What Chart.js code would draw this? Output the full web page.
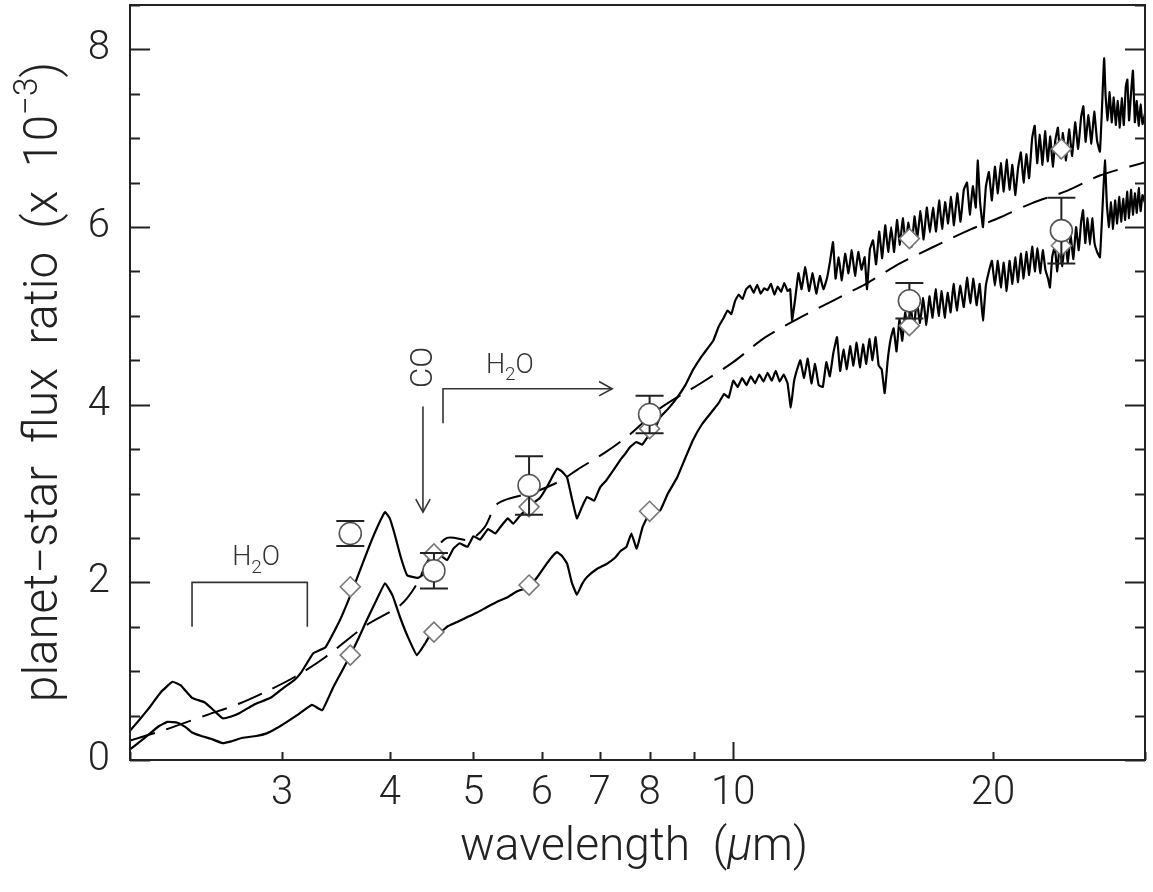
<!DOCTYPE html>
<html>
<head>
<meta charset="utf-8">
<script src="https://cdn.jsdelivr.net/npm/chart.js@4.4.0/dist/chart.umd.min.js"></script>
<style>
  html, body { margin: 0; padding: 0; background: #fff; }
  #wrap { width: 1153px; height: 892px; }
</style>
</head>
<body>
<div id="wrap"><canvas id="spectrum"></canvas></div>
<script>
// model spectra, [wavelength (um), planet-star flux ratio (x 1e-3)]
const upperModel = [
  [2.0,0.33],[2.05,0.45],[2.11,0.60],[2.17,0.76],[2.24,0.88],[2.29,0.84],[2.36,0.70],[2.44,0.65],[2.5,0.56],[2.56,0.47],
  [2.62,0.49],[2.68,0.53],[2.78,0.62],[2.91,0.70],[3.01,0.81],[3.1,0.90],[3.16,0.99],[3.26,1.20],[3.37,1.27],[3.5,1.57],
  [3.62,1.91],[3.76,2.33],[3.86,2.60],[3.95,2.79],[4.0,2.72],[4.05,2.55],[4.12,2.28],[4.19,2.08],[4.31,2.05],[4.39,2.10],
  [4.49,2.20],[4.58,2.30],[4.66,2.25],[4.74,2.38],[4.82,2.44],[4.92,2.40],[5.0,2.52],[5.09,2.48],[5.2,2.60],[5.3,2.55],
  [5.37,2.62],[5.48,2.72],[5.56,2.66],[5.66,2.75],[5.76,2.82],[5.86,2.89],[5.97,2.95],[6.08,3.07],[6.18,3.20],[6.25,3.28],
  [6.33,3.25],[6.42,3.18],[6.5,2.95],[6.59,2.72],[6.68,2.85],[6.77,2.96],[6.9,2.92],[7.01,3.07],[7.13,3.15],[7.26,3.26],
  [7.4,3.38],[7.5,3.45],[7.59,3.52],[7.72,3.58],[7.84,3.55],[7.95,3.63],[8.1,3.72],[8.23,3.86],[8.4,3.95],[8.61,4.08],
  [8.8,4.22],[8.98,4.39],[9.2,4.55],[9.48,4.72],[9.62,4.88],[9.75,4.98],[9.85,5.06],[9.95,5.02],[10.05,5.17],[10.15,5.24],
  [10.25,5.19],[10.35,5.30],[10.46,5.34],[10.56,5.26],[10.66,5.35],[10.76,5.25],[10.86,5.31],[10.96,5.29],[11.06,5.36],[11.16,5.24],
  [11.26,5.33],[11.36,5.27],[11.46,5.37],[11.56,5.28],[11.64,5.30],[11.7,4.95],[11.8,5.20],[11.9,5.48],[12.0,5.30],[12.12,5.55],
  [12.24,5.28],[12.36,5.48],[12.48,5.25],[12.6,5.45],[12.72,5.30],[12.84,5.42],[12.95,5.62],[13.05,5.83],[13.14,5.42],[13.25,5.66],
  [13.36,5.40],[13.48,5.70],[13.6,5.48],[13.72,5.74],[13.84,5.45],[13.96,5.72],[14.08,5.52],[14.2,5.66],[14.29,5.30],[14.4,5.75],
  [14.52,5.85],[14.64,5.58],[14.76,5.95],[14.88,5.65],[15.0,6.02],[15.12,5.72],[15.24,6.00],[15.36,5.72],[15.48,6.08],[15.6,5.80],
  [15.72,6.10],[15.84,5.82],[15.96,6.05],[16.1,5.78],[16.22,6.12],[16.34,5.88],[16.48,6.18],[16.62,5.86],[16.76,6.22],[16.9,5.94],
  [17.04,6.22],[17.18,5.95],[17.32,6.30],[17.46,5.98],[17.6,6.28],[17.74,6.04],[17.88,6.34],[18.02,6.02],[18.18,6.38],[18.34,6.06],
  [18.5,6.42],[18.66,6.50],[18.8,6.14],[18.95,6.46],[19.1,6.22],[19.2,6.75],[19.32,6.28],[19.47,6.00],[19.62,6.45],[19.78,6.62],
  [19.94,6.30],[20.1,6.68],[20.26,6.38],[20.42,6.72],[20.58,6.40],[20.74,6.76],[20.9,6.42],[21.06,6.70],[21.22,6.36],[21.38,6.66],
  [21.54,6.84],[21.7,6.50],[21.86,6.82],[22.02,6.55],[22.2,7.00],[22.35,7.14],[22.5,6.72],[22.66,7.04],[22.82,6.70],[22.98,7.08],
  [23.14,6.74],[23.3,7.02],[23.46,6.68],[23.62,6.98],[23.78,7.12],[23.94,6.78],[24.1,7.06],[24.3,6.75],[24.5,7.10],[24.7,6.80],
  [24.9,7.18],[25.1,6.88],[25.3,7.24],[25.45,7.36],[25.6,6.96],[25.8,7.26],[26.0,6.94],[26.2,7.30],[26.4,6.97],[26.6,6.85],
  [26.75,7.35],[26.9,7.90],[27.0,7.50],[27.15,7.20],[27.3,7.52],[27.45,7.18],[27.6,7.46],[27.75,7.15],[27.9,7.42],[28.05,7.12],
  [28.2,7.45],[28.35,7.15],[28.5,7.58],[28.62,7.66],[28.75,7.20],[28.9,7.50],[29.05,7.76],[29.2,7.18],[29.35,7.42],[29.5,7.14],
  [29.65,7.38],[29.8,7.16],[30.0,7.28]
];

const lowerModel = [
  [2.0,0.12],[2.05,0.20],[2.11,0.30],[2.16,0.38],[2.21,0.43],[2.27,0.42],[2.32,0.37],[2.36,0.31],[2.42,0.27],[2.48,0.24],
  [2.56,0.19],[2.62,0.21],[2.7,0.25],[2.8,0.27],[2.88,0.30],[2.96,0.36],[3.04,0.43],[3.14,0.52],[3.25,0.62],[3.34,0.56],
  [3.44,0.82],[3.52,1.00],[3.6,1.18],[3.68,1.37],[3.76,1.57],[3.86,1.80],[3.95,1.99],[4.03,1.85],[4.11,1.61],[4.2,1.38],
  [4.3,1.18],[4.4,1.32],[4.49,1.46],[4.58,1.44],[4.66,1.50],[4.78,1.55],[4.92,1.61],[5.05,1.66],[5.18,1.72],[5.32,1.78],
  [5.47,1.83],[5.62,1.90],[5.81,1.95],[5.95,2.08],[6.08,2.21],[6.18,2.30],[6.25,2.34],[6.33,2.30],[6.42,2.21],[6.5,2.00],
  [6.59,1.86],[6.68,1.98],[6.77,2.06],[6.95,2.15],[7.14,2.21],[7.3,2.28],[7.4,2.35],[7.52,2.40],[7.62,2.55],[7.73,2.38],
  [7.85,2.62],[7.95,2.73],[8.05,2.78],[8.23,2.81],[8.4,3.00],[8.61,3.18],[8.8,3.40],[8.98,3.60],[9.2,3.78],[9.48,3.94],
  [9.62,4.02],[9.76,4.12],[9.88,4.08],[10.0,4.27],[10.12,4.20],[10.24,4.30],[10.36,4.22],[10.48,4.32],[10.6,4.24],[10.72,4.34],
  [10.84,4.26],[10.96,4.36],[11.08,4.27],[11.2,4.38],[11.32,4.26],[11.44,4.34],[11.56,4.24],[11.66,3.97],[11.76,4.26],[11.86,4.40],
  [11.96,4.50],[12.08,4.30],[12.2,4.52],[12.32,4.24],[12.44,4.46],[12.56,4.22],[12.7,4.20],[12.82,4.48],[12.94,4.32],[13.06,4.58],
  [13.19,4.76],[13.3,4.38],[13.42,4.62],[13.54,4.40],[13.66,4.66],[13.78,4.44],[13.9,4.70],[14.02,4.42],[14.14,4.68],[14.26,4.46],
  [14.38,4.74],[14.5,4.50],[14.62,4.76],[14.74,4.44],[14.86,4.40],[14.98,4.13],[15.1,4.50],[15.22,4.74],[15.34,4.86],[15.46,4.60],
  [15.58,4.96],[15.7,4.72],[15.82,5.04],[15.94,4.80],[16.06,5.10],[16.18,4.84],[16.32,5.17],[16.46,4.92],[16.6,5.20],[16.74,4.90],
  [16.88,5.22],[17.02,4.98],[17.16,5.30],[17.3,5.00],[17.44,5.28],[17.58,4.98],[17.72,5.26],[17.86,5.04],[18.0,5.36],[18.16,5.06],
  [18.32,5.34],[18.5,5.10],[18.66,5.43],[18.82,5.14],[18.98,5.42],[19.14,5.12],[19.3,5.36],[19.47,4.95],[19.62,5.34],[19.78,5.50],
  [19.94,5.62],[20.1,5.34],[20.26,5.62],[20.42,5.32],[20.58,5.60],[20.74,5.28],[20.9,5.62],[21.06,5.36],[21.22,5.66],[21.38,5.38],
  [21.54,5.70],[21.7,5.42],[21.86,5.72],[22.02,5.46],[22.2,5.78],[22.36,5.50],[22.52,5.76],[22.68,5.48],[22.84,5.74],[23.0,5.52],
  [23.16,5.42],[23.28,5.32],[23.42,5.66],[23.58,5.78],[23.74,5.50],[23.9,5.82],[24.06,5.56],[24.24,5.86],[24.42,5.60],[24.6,5.90],
  [24.78,5.64],[24.96,6.00],[25.14,5.74],[25.3,6.06],[25.43,6.19],[25.58,5.82],[25.74,6.10],[25.9,5.80],[26.06,6.10],[26.22,5.82],
  [26.4,5.72],[26.6,5.66],[26.78,6.20],[26.96,6.75],[27.1,6.25],[27.25,6.00],[27.4,6.28],[27.55,5.98],[27.7,6.30],[27.85,6.04],
  [28.0,6.34],[28.15,6.06],[28.3,6.32],[28.45,6.08],[28.6,6.40],[28.75,6.10],[28.9,6.42],[29.05,6.14],[29.2,6.38],[29.35,6.16],
  [29.5,6.44],[29.65,6.18],[29.8,6.36],[30.0,6.27]
];

const dashedModel = [
  [2.0,0.22],[2.18,0.33],[2.46,0.51],[2.67,0.63],[2.89,0.78],[3.11,0.94],[3.37,1.16],[3.76,1.52],[4.11,1.74],[4.28,1.95],
  [4.45,2.28],[4.66,2.50],[4.95,2.48],[5.15,2.62],[5.34,2.89],[5.9,3.02],[6.3,3.14],[6.6,3.27],[7.1,3.46],[7.6,3.67],
  [8.2,3.95],[9.2,4.25],[10.0,4.48],[10.9,4.76],[11.95,4.98],[13.04,5.17],[14.3,5.37],[15.6,5.59],[17.0,5.77],[18.7,5.96],
  [20.4,6.11],[22.2,6.27],[24.4,6.41],[26.6,6.58],[30.0,6.73]
];

// band measurements
const bandWave = [3.6, 4.5, 5.8, 8.0, 16, 24];
const obsRatio = [2.55, 2.13, 3.09, 3.89, 5.17, 5.96];
const obsErr = [0.14, 0.20, 0.33, 0.21, 0.20, 0.37];
const upperBand = [1.95, 2.32, 2.85, 3.73, 5.87, 6.88];
const lowerBand = [1.18, 1.44, 1.97, 2.80, 4.89, 5.79];

const xTickValues = [2, 3, 4, 5, 6, 7, 8, 9, 10, 20, 30];
const xTickLabels = [3, 4, 5, 6, 7, 8, 10, 20];
const yTickLabels = [0, 2, 4, 6, 8];

const FONT = "Roboto, 'DejaVu Sans', sans-serif";
const INK = '#222';

function pairs(list) {
    return list.map(p => ({ x: p[0], y: p[1] }));
}

function partFont(p, size) {
    return (p.italic ? 'italic ' : '') + '300 ' + (size * (p.scale || 1)) + 'px ' + FONT;
}

function richWidth(ctx, parts, size) {
    let w = 0;
    parts.forEach(p => {
        ctx.font = partFont(p, size);
        w += ctx.measureText(p.t).width;
    });
    return w;
}

function drawRich(ctx, parts, x, y, size) {
    parts.forEach(p => {
        ctx.font = partFont(p, size);
        ctx.fillText(p.t, x, y + (p.dy || 0) * size);
        x += ctx.measureText(p.t).width;
    });
}

function arrowHead(ctx, x, y, angle) {
    const len = 15, spread = 0.5;
    ctx.beginPath();
    ctx.moveTo(x - len * Math.cos(angle - spread), y - len * Math.sin(angle - spread));
    ctx.lineTo(x, y);
    ctx.lineTo(x - len * Math.cos(angle + spread), y - len * Math.sin(angle + spread));
    ctx.stroke();
}

// no half-label padding around the plot box
function noScalePadding(scale) {
    scale.paddingTop = 0;
    scale.paddingBottom = 0;
    scale.paddingLeft = 0;
    scale.paddingRight = 0;
}

const decorations = {
    id: 'decorations',
    afterDatasetsDraw(chart) {
        // error bars, stems stop at the circle edge
        const ctx = chart.ctx, xs = chart.scales.x, ys = chart.scales.y;
        const r = 11, cap = 14;
        ctx.save();
        ctx.strokeStyle = INK;
        ctx.lineWidth = 2;
        bandWave.forEach((w, i) => {
            const px = xs.getPixelForValue(w);
            const pc = ys.getPixelForValue(obsRatio[i]);
            const top = ys.getPixelForValue(obsRatio[i] + obsErr[i]);
            const bot = ys.getPixelForValue(obsRatio[i] - obsErr[i]);
            ctx.beginPath();
            ctx.moveTo(px - cap, top); ctx.lineTo(px + cap, top);
            ctx.moveTo(px - cap, bot); ctx.lineTo(px + cap, bot);
            if (pc - top > r) { ctx.moveTo(px, top); ctx.lineTo(px, pc - r); }
            if (bot - pc > r) { ctx.moveTo(px, bot); ctx.lineTo(px, pc + r); }
            ctx.stroke();
        });
        ctx.restore();
    },
    afterDraw(chart) {
        const ctx = chart.ctx, xs = chart.scales.x, ys = chart.scales.y;
        const a = chart.chartArea;
        ctx.save();
        ctx.strokeStyle = INK;
        ctx.lineWidth = 2;
        ctx.strokeRect(a.left, a.top, a.right - a.left, a.bottom - a.top);

        // inward ticks
        ctx.beginPath();
        ys.ticks.forEach(t => {
            const py = Math.round(ys.getPixelForValue(t.value)) + 0.5;
            const len = t.value % 2 === 0 ? 20 : 10;
            ctx.moveTo(a.left, py); ctx.lineTo(a.left + len, py);
            ctx.moveTo(a.right, py); ctx.lineTo(a.right - len, py);
        });
        xs.ticks.forEach(t => {
            const px = Math.round(xs.getPixelForValue(t.value)) + 0.5;
            const len = t.value === 10 ? 18 : 8;
            ctx.moveTo(px, a.bottom); ctx.lineTo(px, a.bottom - len);
        });
        ctx.stroke();

        // annotations
        ctx.fillStyle = '#333';
        ctx.strokeStyle = '#333';
        ctx.lineWidth = 1.6;
        const X = v => xs.getPixelForValue(v), Y = v => ys.getPixelForValue(v);
        const h2o = [{ t: 'H' }, { t: '2', scale: 0.7, dy: 0.28 }, { t: 'O' }];
        const annSize = 27;

        ctx.beginPath();
        ctx.moveTo(X(2.36), Y(1.5)); ctx.lineTo(X(2.36), Y(2.0));
        ctx.lineTo(X(3.21), Y(2.0)); ctx.lineTo(X(3.21), Y(1.5));
        ctx.stroke();
        let w = richWidth(ctx, h2o, annSize);
        drawRich(ctx, h2o, X(2.8) - w / 2, Y(2.19), annSize);

        ctx.beginPath();
        ctx.moveTo(X(4.37), Y(3.98)); ctx.lineTo(X(4.37), Y(2.79));
        ctx.stroke();
        arrowHead(ctx, X(4.37), Y(2.79), Math.PI / 2);
        ctx.save();
        ctx.translate(X(4.37) + 9, Y(4.42));
        ctx.rotate(-Math.PI / 2);
        ctx.font = '300 31px ' + FONT;
        ctx.textAlign = 'center';
        ctx.fillText('CO', 0, 0);
        ctx.restore();

        ctx.beginPath();
        ctx.moveTo(X(4.61), Y(3.79)); ctx.lineTo(X(4.61), Y(4.18));
        ctx.lineTo(X(7.24), Y(4.18));
        ctx.stroke();
        arrowHead(ctx, X(7.24), Y(4.18), 0);
        w = richWidth(ctx, h2o, annSize);
        drawRich(ctx, h2o, X(5.51) - w / 2, Y(4.36), annSize);

        // axis titles
        ctx.fillStyle = INK;
        const xTitle = [{ t: 'wavelength  (' }, { t: '\u03bc', italic: true }, { t: 'm)' }];
        let size = 44;
        size = size * 348 / richWidth(ctx, xTitle, size);
        w = richWidth(ctx, xTitle, size);
        drawRich(ctx, xTitle, 634 - w / 2, 860, size);

        const yTitle = [{ t: 'planet\u2212star  flux  ratio  (x  10' }, { t: '\u22123', scale: 0.7, dy: -0.42 }, { t: ')' }];
        size = 40;
        size = size * 640 / richWidth(ctx, yTitle, size);
        w = richWidth(ctx, yTitle, size);
        ctx.translate(57, 382);
        ctx.rotate(-Math.PI / 2);
        drawRich(ctx, yTitle, -w / 2, 0, size);
        ctx.restore();
    }
};

function renderChart(canvas) {
    const tickFont = { family: FONT, size: 40, weight: 300 };
    const marker = (data, style, color) => ({
        data: data,
        showLine: false,
        pointStyle: style,
        pointRadius: style === 'circle' ? 11 : 10,
        pointBorderWidth: 1.6,
        pointBorderColor: color,
        pointBackgroundColor: '#fff'
    });
    const curve = (data, dash) => ({
        data: pairs(data),
        borderColor: '#000',
        borderWidth: dash ? 2 : 2.2,
        borderDash: dash || [],
        pointRadius: 0,
        tension: dash ? 0.3 : 0.1,
        fill: false
    });

    new Chart(canvas, {
        type: 'line',
        data: {
            datasets: [
                marker(bandWave.map((w, i) => ({ x: w, y: obsRatio[i] })), 'circle', '#555'),
                marker(bandWave.map((w, i) => ({ x: w, y: upperBand[i] })), 'rectRot', '#777'),
                marker(bandWave.map((w, i) => ({ x: w, y: lowerBand[i] })), 'rectRot', '#777'),
                curve(upperModel),
                curve(lowerModel),
                curve(dashedModel, [26, 12])
            ]
        },
        options: {
            responsive: true,
            maintainAspectRatio: false,
            animation: false,
            layout: { autoPadding: false, padding: { left: 0, right: 8, top: 5, bottom: 0 } },
            plugins: {
                legend: { display: false },
                tooltip: { enabled: false },
                title: { display: false }
            },
            scales: {
                x: {
                    type: 'logarithmic',
                    min: 2,
                    max: 30,
                    grid: { display: false },
                    border: { display: false },
                    afterBuildTicks: scale => {
                        scale.ticks = xTickValues.map(v => ({ value: v }));
                    },
                    afterFit: scale => {
                        scale.height = 132;
                        noScalePadding(scale);
                    },
                    ticks: {
                        autoSkip: false,
                        maxRotation: 0,
                        padding: 2,
                        color: INK,
                        font: tickFont,
                        callback: v => xTickLabels.includes(v) ? String(v) : ''
                    }
                },
                y: {
                    min: 0,
                    max: 8.5,
                    grid: { display: false },
                    border: { display: false },
                    afterFit: scale => {
                        scale.width = 130;
                        noScalePadding(scale);
                    },
                    ticks: {
                        stepSize: 0.5,
                        autoSkip: false,
                        padding: 12,
                        color: INK,
                        font: tickFont,
                        callback: v => yTickLabels.includes(v) ? String(v) : ''
                    }
                }
            }
        },
        plugins: [decorations]
    });
}

document.addEventListener('DOMContentLoaded', () => {
    renderChart(document.getElementById('spectrum'));
});
</script>
</body>
</html>
